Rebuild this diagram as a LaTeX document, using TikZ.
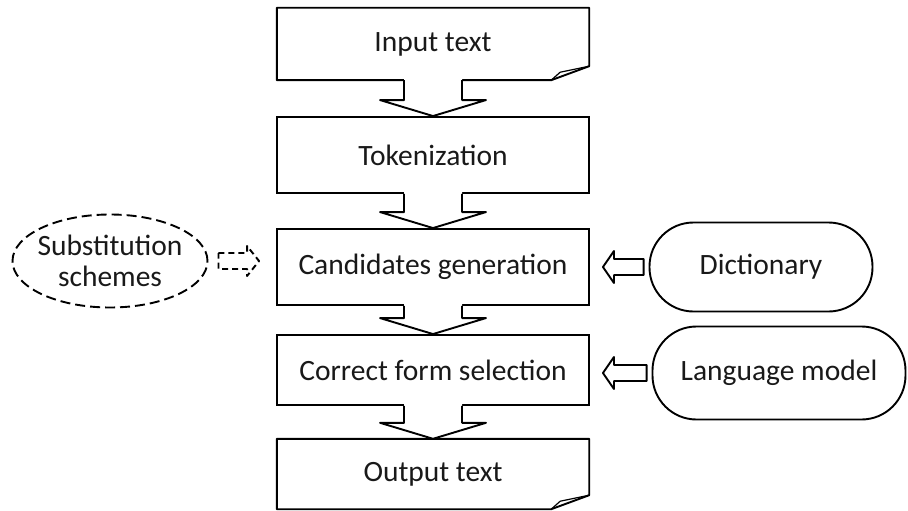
\documentclass[tikz,border=0pt]{standalone}
\usepackage{fontspec}
\setmainfont{Carlito}
\usetikzlibrary{calc,shapes.geometric}

% hollow block arrow pointing down from the bottom of #1 to the top of #2
\newcommand\downblock[2]{%
  \fill[white] ($(#1.south -| #2.north)+(-29,-2)$) -- ($(#2.north)+(-29,-16)$)
    -- ($(#2.north)+(-53,-16)$) -- (#2.north) -- ($(#2.north)+(53,-16)$)
    -- ($(#2.north)+(29,-16)$) -- ($(#1.south -| #2.north)+(29,-2)$) -- cycle;
  \draw[outline] ($(#1.south -| #2.north)+(-29,0)$) -- ($(#2.north)+(-29,-16)$)
    -- ($(#2.north)+(-53,-16)$) -- (#2.north) -- ($(#2.north)+(53,-16)$)
    -- ($(#2.north)+(29,-16)$) -- ($(#1.south -| #2.north)+(29,0)$);
}

% hollow block arrow pointing left from resource #1 towards step #2
\newcommand\leftblock[2]{%
  \coordinate (lbtip) at ($(#1.west -| #2.east)+(13,0)$);
  \coordinate (lbtail) at ($(#1.west)+(-5,0)$);
  \draw[outline] ($(lbtail)+(0,-8)$) -- ($(lbtip)+(11,-8)$) -- ($(lbtip)+(11,-16)$)
    -- (lbtip) -- ($(lbtip)+(11,16)$) -- ($(lbtip)+(11,8)$) -- ($(lbtail)+(0,8)$) -- cycle;
}

% outline of a page-like box with a curled lower right corner
\newcommand\pagebox[1]{%
  \draw[outline] (#1.north west) -- (#1.north east) -- ($(#1.south east)+(0,-14)$)
    -- ($(#1.south east)+(-38,0)$) -- (#1.south west) -- cycle;
  \draw[line width=1.2pt, line join=round] ($(#1.south east)+(-38,0)$) -- ($(#1.south east)+(-29,-8)$)
    -- ($(#1.south east)+(0,-14)$);
}

\begin{document}
\begin{tikzpicture}[x=1pt, y=-1pt,
  every node/.style={font=\fontsize{29.5}{30.5}\selectfont, text=black!90},
  outline/.style={line width=1.9pt, line join=round},
  stepbox/.style={draw, line width=1.9pt, minimum width=312pt, inner sep=0pt},
  pagenode/.style={minimum width=312pt, inner sep=0pt},
  resource/.style={draw, line width=1.9pt, rounded corners=44pt, inner sep=0pt},
  schemebox/.style={draw, ellipse, dash pattern=on 10pt off 5pt, line width=1.9pt,
    minimum width=195pt, minimum height=93pt, inner xsep=-14pt, inner ysep=0pt, align=center}
]
\useasboundingbox (0,0) rectangle (908,511);

% processing chain
\node[pagenode, minimum height=72pt] (input) at (433,44) {Input text};
\node[stepbox, minimum height=76pt] (token) at (433,155) {Tokenization};
\node[stepbox, minimum height=76pt] (cand) at (433,267) {Candidates generation};
\node[stepbox, minimum height=70pt] (select) at (433,370) {Correct form selection};
\node[pagenode, minimum height=70pt] (output) at (433,474) {Output text};
\pagebox{input}
\pagebox{output}

\downblock{input}{token}
\downblock{token}{cand}
\downblock{cand}{select}
\downblock{select}{output}

% resources
\node[resource, minimum width=223pt, minimum height=89pt] (dict) at (761,267) {Dictionary};
\node[resource, minimum width=253pt, minimum height=93pt] (lm) at (779,373) {Language model};
\leftblock{dict}{cand}
\leftblock{lm}{select}

% optional substitution schemes
\node[schemebox] (subst) at (110,261) {Substitution\\schemes};
\coordinate (sbtail) at ($(subst.east)+(10,0)$);
\coordinate (sbtip) at ($(subst.east -| cand.west)+(-17,0)$);
\draw[outline, dash pattern=on 6pt off 4pt] ($(sbtail)+(0,-8)$) -- ($(sbtip)+(-12,-8)$)
  -- ($(sbtip)+(-12,-15)$) -- (sbtip) -- ($(sbtip)+(-12,15)$) -- ($(sbtip)+(-12,8)$)
  -- ($(sbtail)+(0,8)$) -- cycle;
\end{tikzpicture}
\end{document}
